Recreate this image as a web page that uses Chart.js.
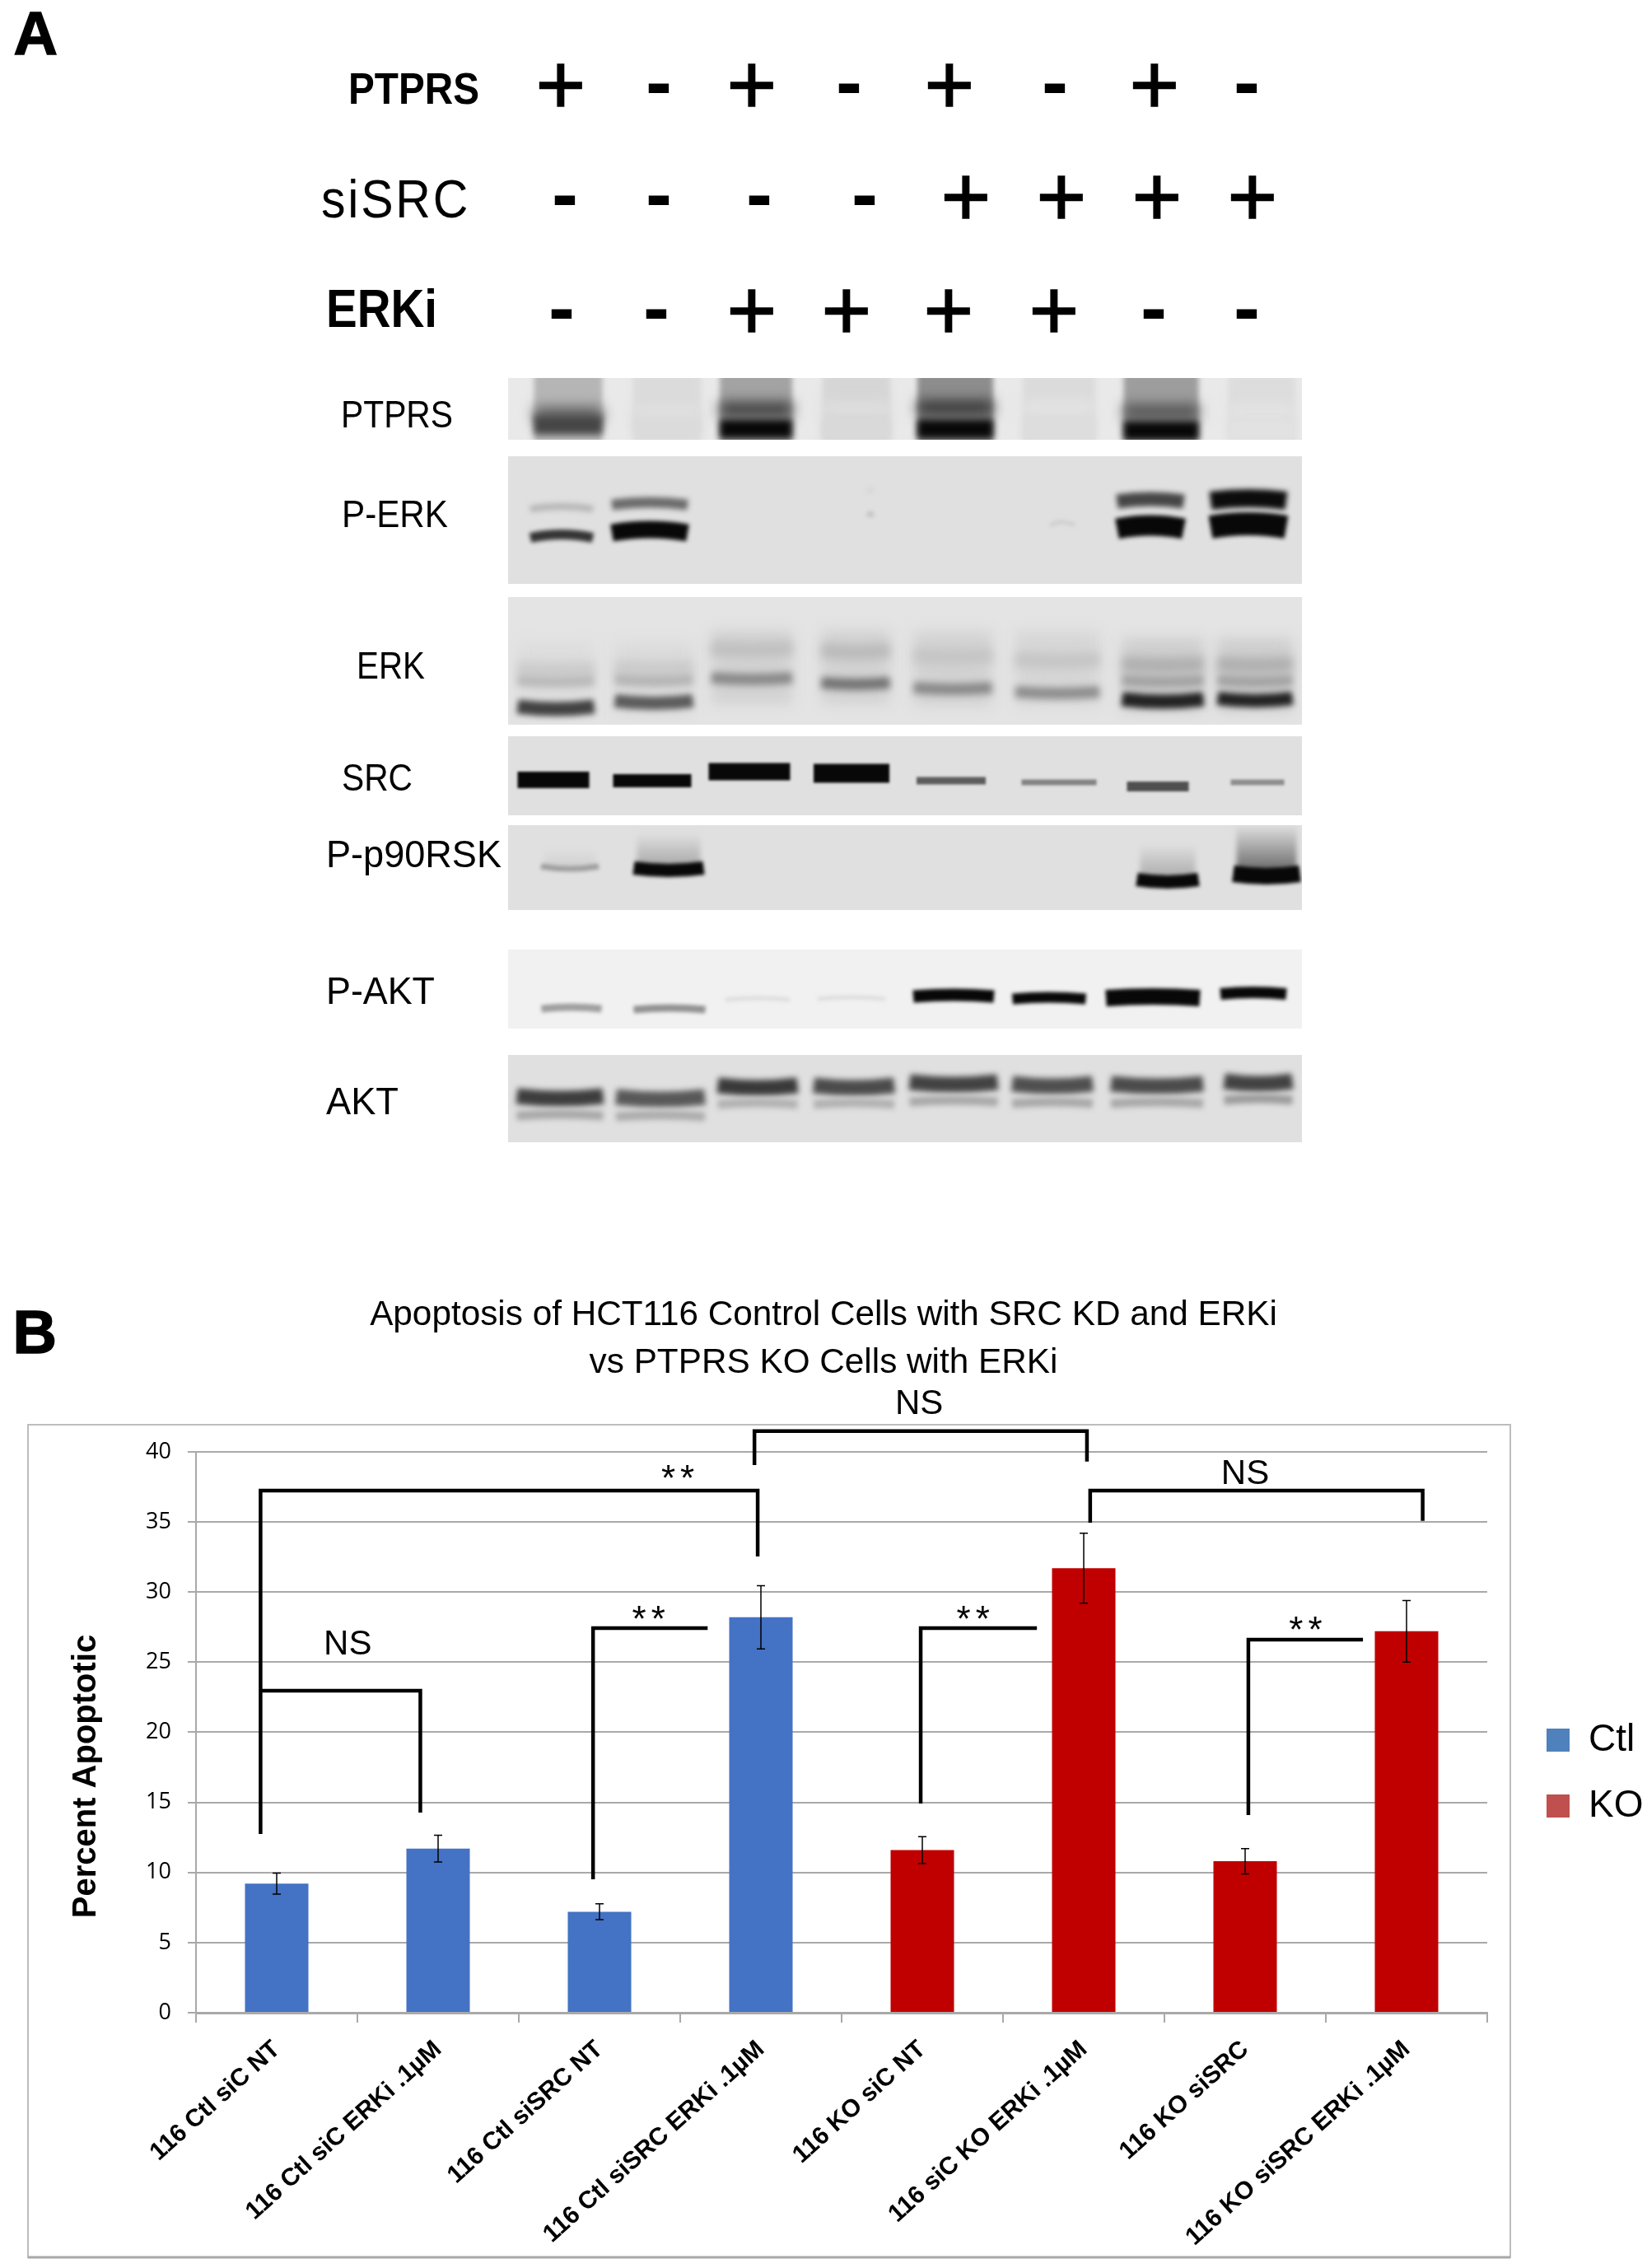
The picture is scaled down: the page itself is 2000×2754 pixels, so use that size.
<!DOCTYPE html>
<html><head><meta charset="utf-8">
<style>html,body{margin:0;padding:0;background:#fff}canvas{position:absolute;left:0;display:block}</style>
<script src="https://cdn.jsdelivr.net/npm/chart.js@4"></script>
</head><body>
<canvas id="panelA" width="2000" height="1500" style="top:0"></canvas>
<canvas id="panelB" width="2000" height="1254" style="top:1500px"></canvas>
<script>
// ---- Panel B data
const categories = ['116 Ctl siC NT','116 Ctl siC ERKi .1µM','116 Ctl siSRC NT','116 Ctl siSRC ERKi .1µM','116 KO siC NT','116 siC KO ERKi .1µM','116 KO siSRC','116 KO siSRC ERKi .1µM'];
const ctlValues = [9.2,11.7,7.2,28.2,null,null,null,null];
const koValues  = [null,null,null,null,11.6,31.7,10.8,27.2];
const ctlErrors = [0.75,0.95,0.57,2.25,null,null,null,null];
const koErrors  = [null,null,null,null,0.95,2.5,0.9,2.2];
const seriesNames = ['Ctl','KO'];
// ---- Panel A data
const lanes = [1,2,3,4,5,6,7,8];
const ptprsRow = ['+','-','+','-','+','-','+','-'];
const sisrcRow = ['-','-','-','-','+','+','+','+'];
const erkiRow  = ['-','-','+','+','+','+','-','-'];
const ptprsSmear = [.22,.05,.3,.07,.4,.05,.33,.04];
const ptprsUpper = [.62,.02,.78,.03,.8,.01,.68,.01];
const ptprsLower = [.72,.05,1,.06,1,.04,1,.02];
const perkUpper = [.22,.55,0,.12,0,0,.72,.98];
const perkLower = [.8,1,0,.2,0,.15,1,1];
const erkSmear = [.04,.05,.09,.09,.09,.07,.11,.11];
const erkTop = [.12,.12,.17,.2,.15,.15,.25,.25];
const erkMid = [.2,.22,.42,.52,.42,.4,.3,.3];
const erkLow = [.74,.62,0,0,0,0,.88,.88];
const srcLevel = [1,1,1,1,.62,.45,.68,.4];
const rskLevel = [.32,1,0,0,0,0,1,1];
const rskSmear = [.1,.3,0,0,0,0,.28,.6];
const paktLevel = [.32,.38,.04,.04,1,1,1,1];
const aktMain = [.76,.64,.78,.7,.74,.68,.7,.74];
const aktLow = [.28,.26,.24,.24,.28,.28,.28,.34];

// ---- Panel A layout
const gelLayout = [
 {top:459,bottom:534,bg:'#e9e9e9',nudge:[0,0,-12,-10,-10,-4,0,2],width:[83,83,88,83,92,88,91,82],bands:[
  {levels:ptprsSmear,y:[495,495,495,495,495,495,495,495],h:84,blur:3},
  {levels:ptprsUpper,y:[503,503,497,497,495,495,500,500],h:17,blur:8},
  {levels:ptprsLower,y:[516,516,521,521,521,521,523,523],h:23,blur:4.5}]},
 {top:554,bottom:709,bg:'#e0e0e0',nudge:[-8,-21,0,7,0,0,-13,-14],width:[76,92,0,6,0,30,81,92],bands:[
  {levels:perkUpper,y:[618,613,0,597,0,0,609,608],h:[8,13,0,3,0,0,17,22],blur:3,sag:-3},
  {levels:perkLower,y:[653,647,0,627,0,638,642,640],h:[12,21,0,4,0,3,25,28],blur:2.5,sag:-4}]},
 {top:725,bottom:880,bg:'#e4e4e4',nudge:[-15,-16,-17,-11,-13,-6,2,-6],width:[93,95,98,83,95,102,99,91],bands:[
  {levels:erkSmear,y:[825,825,810,810,812,812,820,820],h:90,blur:8},
  {levels:erkTop,y:[812,810,787,790,796,801,806,806],h:18,blur:6,sag:2},
  {levels:erkMid,y:[826,825,823,829,835,840,826,826],h:14,blur:4,sag:2},
  {levels:erkLow,y:[858,851,0,0,0,0,849,848],h:[17,16,0,0,0,0,17,16],blur:3.5,sag:3}]},
 {top:894,bottom:990,bg:'#e0e0e0',nudge:[-18,-18,-20,-16,-15,-4,-4,-3],width:[87,95,99,92,84,91,75,65],bands:[
  {levels:srcLevel,y:[947,948,937,939,948,950,955,950],h:[20,16,21,23,9,7,12,7],blur:1.8}]},
 {top:1002,bottom:1105,bg:'#e0e0e0',nudge:[2,2,0,0,0,0,8,8],width:[70,85,0,0,0,0,75,81],bands:[
  {levels:rskSmear,y:[1030,1012,0,0,0,0,1025,1002],h:[24,44,0,0,0,0,44,60],blur:3,fade:true},
  {levels:rskLevel,y:[1052,1054,0,0,0,0,1068,1061],h:[7,16,0,0,0,0,16,20],blur:2,sag:3}]},
 {top:1153,bottom:1249,bg:'#f1f1f1',nudge:[4,3,-10,-16,-12,-16,-10,-8],width:[73,87,78,82,98,89,114,80],bands:[
  {levels:paktLevel,y:[1225,1226,1214,1213,1210,1213,1212,1207],h:[9,9,5,5,15,13,20,14],blur:2,sag:-2}]},
 {top:1281,bottom:1387,bg:'#e0e0e0',nudge:[-10,-8,-10,-13,-12,-12,-5,-2],width:[105,108,97,98,107,98,112,83],bands:[
  {levels:aktMain,y:[1331,1332,1318,1318,1314,1316,1316,1313],h:19,blur:3.5,sag:3},
  {levels:aktLow,y:[1355,1356,1341,1341,1338,1340,1340,1336],h:11,blur:3,sag:-2}]}
];
const textLayout = [
 ['PTPRS',423,126,54,159,'bold',0],['siSRC',390,264,64,181,'normal',3],['ERKi',396,397,64,135,'bold',0],
 ['PTPRS',414,519,47,136,'normal',0],['P-ERK',415,640,47,129,'normal',0],['ERK',433,824,47,83,'normal',0],
 ['SRC',415,960,47,86,'normal',0],['P-p90RSK',396,1053,47,213,'normal',0],['P-AKT',396,1219,47,132,'normal',0],['AKT',396,1353,47,88,'normal',0]
];
const rowLayout = [
 {marks:ptprsRow,x:[681,800,913,1031,1153,1281,1402,1514],plusY:103,minusY:107},
 {marks:sisrcRow,x:[686,800,922,1050,1173,1289,1405,1521],plusY:239,minusY:243},
 {marks:erkiRow,x:[682,797,913,1028,1152,1280,1401,1514],plusY:377,minusY:381}
];
function fitText(ctx,t,left,base,size,width,weight,spacing){
  ctx.save();
  ctx.font=weight+' '+size+'px "Liberation Sans"';
  ctx.letterSpacing=spacing+'px';
  ctx.textAlign='left';ctx.textBaseline='alphabetic';ctx.fillStyle='#000';
  const w=ctx.measureText(t).width;
  ctx.translate(left,base);ctx.scale(width/w,1);
  ctx.fillText(t,0,0);
  ctx.restore();
}
function glyphAt(ctx,t,cx,cy,font,extra){
  ctx.save();ctx.font=font;ctx.textAlign='left';ctx.textBaseline='alphabetic';ctx.fillStyle='#000';
  const m=ctx.measureText(t);
  const x=cx-(m.actualBoundingBoxRight-m.actualBoundingBoxLeft)/2;
  const y=cy+(m.actualBoundingBoxAscent-m.actualBoundingBoxDescent)/2;
  ctx.fillText(t,x,y);
  if(extra){ctx.lineWidth=extra;ctx.strokeStyle='#000';ctx.strokeText(t,x,y);}
  ctx.restore();
}
const gelPlugin={id:'gel',afterDraw(chart){
  const ctx=chart.ctx,sx=chart.scales.x,sy=chart.scales.y;
  const left=617,right=1581;
  gelLayout.forEach(g=>{
    const top=sy.getPixelForValue(g.top),bot=sy.getPixelForValue(g.bottom);
    ctx.save();
    ctx.fillStyle=g.bg;ctx.fillRect(left,top,right-left,bot-top);
    ctx.beginPath();ctx.rect(left,top,right-left,bot-top);ctx.clip();
    lanes.forEach((lane,i)=>{
      const cx=sx.getPixelForValue(lane)+g.nudge[i],w=g.width[i];
      if(!w)return;
      g.bands.forEach(b=>{
        const lv=b.levels[i]; if(!lv)return;
        const h=Array.isArray(b.h)?b.h[i]:b.h;
        const cy=sy.getPixelForValue(b.y[i]);
        const v=Math.round(222*(1-lv)+8);
        ctx.filter='blur('+b.blur+'px)';
        if(b.fade){
          const gr=ctx.createLinearGradient(0,cy,0,cy+h);
          gr.addColorStop(0,'rgba('+v+','+v+','+v+',0)');gr.addColorStop(1,'rgba('+v+','+v+','+v+',1)');
          ctx.fillStyle=gr;ctx.fillRect(cx-w/2+4,cy,w-8,h);
          return;
        }
        ctx.strokeStyle='rgb('+v+','+v+','+v+')';
        ctx.lineWidth=h;ctx.lineCap='butt';
        ctx.beginPath();ctx.moveTo(cx-w/2,cy);
        ctx.quadraticCurveTo(cx,cy+(b.sag||0)*2,cx+w/2,cy);
        ctx.stroke();
      });
    });
    ctx.restore();
  });
  ctx.filter='none';
  textLayout.forEach(t=>fitText(ctx,t[0],t[1],sy.getPixelForValue(t[2]),t[3],t[4],t[5],t[6]));
  rowLayout.forEach(r=>r.marks.forEach((m,i)=>{
    if(m==='+')glyphAt(ctx,'+',r.x[i],sy.getPixelForValue(r.plusY),'104px "Liberation Sans"',1.5);
    else glyphAt(ctx,'-',r.x[i],sy.getPixelForValue(r.minusY),'bold 96px "Liberation Sans"');
  }));
  glyphAt(ctx,'A',43,40,'bold 74px "Liberation Sans"',1.5);
}};
new Chart(document.getElementById('panelA'),{
  type:'scatter',
  data:{datasets:[{data:[],pointRadius:0}]},
  options:{responsive:false,animation:false,devicePixelRatio:1,layout:{padding:0},
    plugins:{legend:{display:false},title:{display:false},tooltip:{enabled:false}},
    scales:{x:{type:'linear',display:false,min:-4.75,max:11.9167},
            y:{type:'linear',display:false,min:0,max:1500,reverse:true}}},
  plugins:[gelPlugin]
});

// ---- Panel B annotations, in axis units (category index, percent)
const bracketPaths = [
 [[-0.10,12.75],[-0.10,37.24],[2.98,37.24],[2.98,32.54]],
 [[-0.10,22.97],[0.89,22.97],[0.89,14.27]],
 [[1.96,9.52],[1.96,27.43],[2.67,27.43]],
 [[2.96,39.06],[2.96,41.47],[5.02,41.47],[5.02,39.3]],
 [[5.04,34.95],[5.04,37.24],[7.10,37.24],[7.10,35.07]],
 [[3.99,14.92],[3.99,27.43],[4.71,27.43]],
 [[6.02,14.1],[6.02,26.6],[6.73,26.6]]
];
const bracketLabels = [
 ['**',2.5,38.4],['**',2.32,28.4],['NS',0.44,26.2],['**',4.33,28.4],['**',6.39,27.6],['NS',6.0,38.4],['NS',3.98,43.4]
];
const GRID='#a9a9a9';
const annotationPlugin={id:'annot',
 beforeDraw(chart){
   const c=chart.ctx;c.save();c.strokeStyle='#bdbdbd';c.lineWidth=2;
   c.strokeRect(34,230,1800,1011);
   c.strokeStyle='#a8a8a8';c.lineWidth=3;c.beginPath();c.moveTo(34,1241);c.lineTo(1834,1241);c.stroke();
   c.restore();
 },
 afterLayout(chart){
   const l=chart.legend; l.left=1844;l.right=2000;l.top=556;l.bottom=780;
   chart.titleBlock.left=0;chart.titleBlock.right=2000;
 },
 afterDraw(chart){
   const c=chart.ctx,x=chart.scales.x,y=chart.scales.y;
   c.save();
   // error bars
   c.strokeStyle='#000';c.lineWidth=1.5;
   [[ctlValues,ctlErrors],[koValues,koErrors]].forEach(([vals,errs])=>vals.forEach((v,i)=>{
     if(v===null)return;
     const px=x.getPixelForValue(i),hi=y.getPixelForValue(v+errs[i]),lo=y.getPixelForValue(v-errs[i]);
     c.beginPath();c.moveTo(px,hi);c.lineTo(px,lo);
     c.moveTo(px-5,hi);c.lineTo(px+5,hi);c.moveTo(px-5,lo);c.lineTo(px+5,lo);c.stroke();
   }));
   // brackets
   c.lineWidth=4.5;c.lineJoin='miter';c.lineCap='butt';
   bracketPaths.forEach(p=>{c.beginPath();p.forEach((q,i)=>{
     const a=x.getPixelForValue(q[0]),b=y.getPixelForValue(q[1]);i?c.lineTo(a,b):c.moveTo(a,b);});c.stroke();});
   // labels
   c.fillStyle='#000';c.textAlign='center';c.textBaseline='middle';
   bracketLabels.forEach(t=>{
     const a=x.getPixelForValue(t[1]),b=y.getPixelForValue(t[2]);
     if(t[0]==='**'){c.font='44px "Liberation Sans"';c.letterSpacing='6px';c.fillText(t[0],a,b+8);c.letterSpacing='0px';}
     else{c.font='42px "Liberation Sans"';c.fillText(t[0],a,b);}
   });
   // y axis title
   c.save();c.translate(116,657);c.rotate(-Math.PI/2);c.font='bold 40px "Liberation Sans"';c.textBaseline='alphabetic';
   c.fillText('Percent Apoptotic',0,0);c.restore();
   c.restore();
   glyphAt(c,'B',43,117,'bold 74px "Liberation Sans"',1.5);
 }};
new Chart(document.getElementById('panelB'),{
  type:'bar',
  data:{labels:categories,datasets:[
    {label:seriesNames[0],data:ctlValues,backgroundColor:'#4472c4',grouped:false,barPercentage:0.393,categoryPercentage:1},
    {label:seriesNames[1],data:koValues,backgroundColor:'#c00000',grouped:false,barPercentage:0.393,categoryPercentage:1}
  ]},
  options:{responsive:false,animation:false,devicePixelRatio:1,
    layout:{padding:{left:0,right:194,top:0,bottom:0}},
    plugins:{
      tooltip:{enabled:false},
      title:{display:true,text:['Apoptosis of HCT116 Control Cells with SRC KD and ERKi','vs PTPRS KO Cells with ERKi'],
        color:'#000',font:{family:'"Liberation Sans"',size:42.3,weight:'normal',lineHeight:1.37},padding:{top:68,bottom:79}},
      legend:{display:true,position:'chartArea',align:'start',
        labels:{color:'#000',font:{family:'"Liberation Sans"',size:46},boxWidth:28,boxHeight:28,padding:34,
          generateLabels(chart){return seriesNames.map((n,i)=>({text:n,fillStyle:['#4f81bd','#c0504d'][i],strokeStyle:['#4f81bd','#c0504d'][i],lineWidth:0,datasetIndex:i,hidden:false}));}}}
    },
    scales:{
      x:{offset:true,grid:{drawOnChartArea:false,drawTicks:true,tickLength:12,color:GRID,lineWidth:2},border:{color:GRID,width:3},
        afterFit(s){s.height=310;},
        ticks:{autoSkip:false,minRotation:42,maxRotation:42,padding:15,color:'#000',font:{family:'"Liberation Sans"',size:30,weight:'bold'}}},
      y:{min:0,max:40,grid:{color:GRID,lineWidth:2,tickLength:10,tickColor:GRID},border:{color:GRID,width:2},
        afterFit(s){s.width=238;},
        ticks:{stepSize:5,padding:20,color:'#000',font:{family:'"Open Sans"',size:27}}}
    }},
  plugins:[annotationPlugin]
});
</script>
</body></html>
